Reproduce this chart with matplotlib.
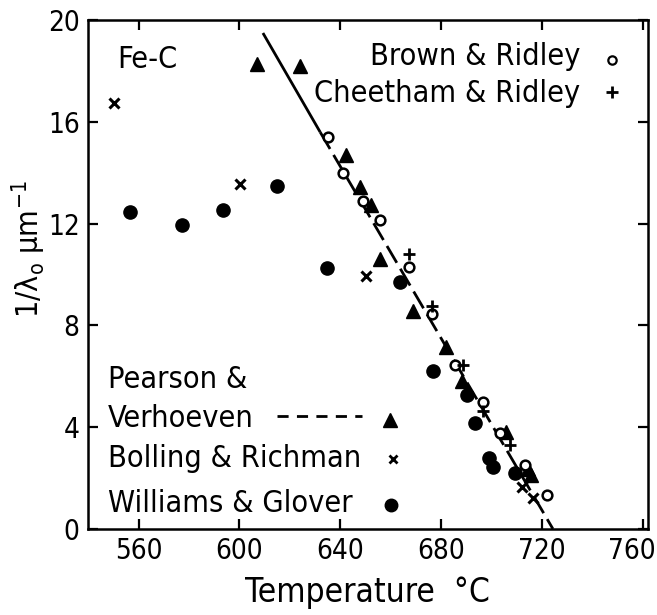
import numpy as np
import matplotlib
matplotlib.use('Agg')
import matplotlib.pyplot as plt
from matplotlib.transforms import ScaledTranslation

plt.rcParams['font.family'] = ['DejaVu Sans']
plt.rcParams['font.stretch'] = 'condensed'
plt.rcParams['mathtext.default'] = 'regular'

# Brown & Ridley (open circles)
br_T = [635.2, 641.1, 649.0, 655.6, 667.0, 676.1, 685.3, 696.6, 703.2, 713.1, 721.7]
br_y = [15.4, 14.0, 12.9, 12.15, 10.3, 8.45, 6.45, 5.0, 3.76, 2.5, 1.35]

# Cheetham & Ridley (plus)
cr_T = [667.0, 676.1, 688.6, 696.6, 707.1]
cr_y = [10.8, 8.75, 6.45, 4.65, 3.3]

# Pearson & Verhoeven (filled triangles)
pv_T = [606.8, 624.0, 642.4, 647.7, 652.0, 655.6, 668.8, 682.0, 688.0, 705.8, 714.4, 715.7]
pv_y = [18.3, 18.2, 14.7, 13.45, 12.75, 10.6, 8.55, 7.15, 5.8, 3.8, 2.35, 2.1]

# Bolling & Richman (x)
bo_T = [550.4, 600.2, 650.3, 711.8, 716.4]
bo_y = [16.75, 13.55, 9.95, 1.66, 1.2]

# Williams & Glover (filled circles)
wg_T = [556.6, 577.4, 593.3, 614.7, 634.5, 663.6, 676.8, 690.0, 693.3, 698.9, 700.3, 709.1]
wg_y = [12.45, 11.95, 12.55, 13.5, 10.27, 9.72, 6.2, 5.27, 4.15, 2.8, 2.42, 2.2]

# Pearson & Verhoeven line: solid top part, dashed below
line_T = [609.3, 632.0, 724.2]
line_y = [19.5, 15.6, 0.0]

fig = plt.figure(figsize=(6.57, 6.15), dpi=100)
ax = fig.add_axes([0.134, 0.140, 0.852, 0.827])

ax.plot(line_T[:2], line_y[:2], color='k', lw=2.0, solid_capstyle='butt')
ax.plot(line_T[1:], line_y[1:], color='k', lw=2.0, dashes=(7, 2.5))

ax.plot(wg_T, wg_y, 'o', ms=9.5, color='k', ls='none')
ax.plot(pv_T, pv_y, '^', ms=9.5, color='k', ls='none')
ax.plot(br_T, br_y, 'o', ms=7, mfc='white', mec='k', mew=1.8, ls='none')
ax.plot(cr_T, cr_y, '+', ms=8, mec='k', mew=2.0, ls='none')
ax.plot(bo_T, bo_y, 'x', ms=6.5, mec='k', mew=2.2, ls='none')

ax.set_xlim(540, 761.8)
ax.set_ylim(0, 20)
ax.set_xticks([560, 600, 640, 680, 720, 760])
ax.set_yticks([0, 4, 8, 12, 16, 20])
ax.tick_params(direction='in', length=7, width=1.6, top=True, right=True,
               labelsize=20, pad=6)
for s in ax.spines.values():
    s.set_linewidth(1.8)

# pull the last x label in so it stays on the page
lab = ax.get_xticklabels()[-1]
lab.set_transform(lab.get_transform() + ScaledTranslation(-0.11, 0, fig.dpi_scale_trans))

ax.set_xlabel('Temperature  °C', fontsize=24, labelpad=8)
ax.set_ylabel(r'1/$\lambda_o$ $\mu$m$^{-1}$', fontsize=22)
ax.yaxis.set_label_coords(-0.072, 0.55)

tr = ax.transAxes
ax.text(0.053, 0.906, 'Fe-C', fontsize=22, transform=tr, va='baseline')

# key, top right
ax.text(0.879, 0.912, 'Brown & Ridley', fontsize=22, transform=tr,
        ha='right', va='baseline')
ax.plot([0.936], [0.921], 'o', ms=6, mfc='white', mec='k', mew=1.6,
        transform=tr, clip_on=False)
ax.text(0.879, 0.839, 'Cheetham & Ridley', fontsize=22, transform=tr,
        ha='right', va='baseline')
ax.plot([0.936], [0.859], '+', ms=8, mec='k', mew=2.0, transform=tr, clip_on=False)

# key, bottom left
ax.text(0.036, 0.277, 'Pearson &', fontsize=22, transform=tr, va='baseline')
ax.text(0.036, 0.200, 'Verhoeven', fontsize=22, transform=tr, va='baseline')
ax.plot([0.338, 0.490], [0.222, 0.222], color='k', lw=2.0, dashes=(4, 3), transform=tr)
ax.plot([0.539], [0.214], '^', ms=9.5, color='k', transform=tr)
ax.text(0.036, 0.122, 'Bolling & Richman', fontsize=22, transform=tr, va='baseline')
ax.plot([0.545], [0.138], 'x', ms=6, mec='k', mew=2.0, transform=tr)
ax.text(0.036, 0.033, 'Williams & Glover', fontsize=22, transform=tr, va='baseline')
ax.plot([0.541], [0.047], 'o', ms=9, color='k', transform=tr)

fig.savefig('out.png', dpi=100)
